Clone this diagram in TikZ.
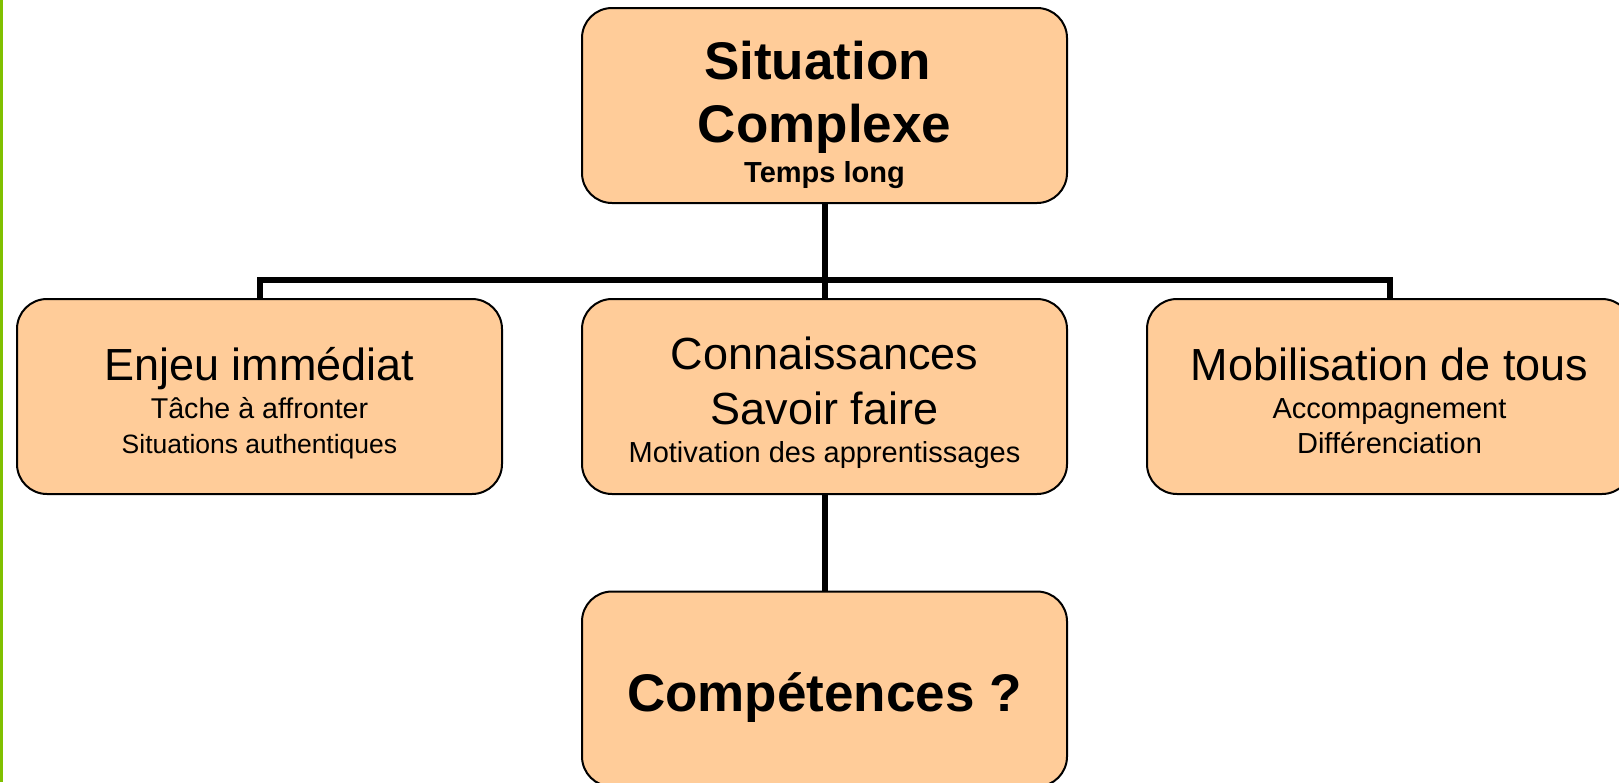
\documentclass[tikz,border=0pt]{standalone}
\usepackage{fontspec}
\setmainfont{Liberation Sans}
\definecolor{peach}{HTML}{FFCC99}
\definecolor{edgegreen}{HTML}{80C000}
\begin{document}
\begin{tikzpicture}[x=1pt,y=-1pt,
  box/.style={draw=black, line width=2pt, fill=peach, rounded corners=30pt,
    minimum width=485pt, minimum height=195pt, inner sep=0pt},
  conn/.style={draw=black, line width=6pt},
  big/.style={anchor=base, inner sep=0pt, font=\fontsize{53}{60}\selectfont\bfseries},
  mid/.style={anchor=base, inner sep=0pt, font=\fontsize{45}{52}\selectfont},
  small/.style={anchor=base, inner sep=0pt, font=\fontsize{29}{33}\selectfont},
  smaller/.style={anchor=base, inner sep=0pt, font=\fontsize{26.5}{31}\selectfont},
  smallb/.style={anchor=base, inner sep=0pt, font=\fontsize{29}{33}\selectfont\bfseries}]
\useasboundingbox (0,0) rectangle (1619,782);
\clip (0,0) rectangle (1619,782);
\fill[white] (0,0) rectangle (1619,782);
\fill[edgegreen] (0,0) rectangle (2.5,782);

% boxes
\node[box] (top) at (824.5,105.5) {};
\node[box] (enj) at (259.5,396.5) {};
\node[box] (con) at (824.5,396.5) {};
\node[box] (mob) at (1389.5,396.5) {};
\node[box] (comp) at (824.5,689) {};

\coordinate (bar) at (824.5,280);

% connectors
\draw[conn] (top.south) -- (con.north);
\draw[conn] (enj.north) -- (enj.north |- bar) -- (mob.north |- bar) -- (mob.north);
\draw[conn] (con.south) -- (comp.north);

% texts
\node[big] (t1) at (817.5,79) {Situation};
\node[big] (t2) at (824.5,142) {Complexe};
\node[smallb] (t3) at (824.5,182) {Temps long};

\node[mid] (e1) at (259.5,380) {Enjeu immédiat};
\node[small, font=\fontsize{28.6}{33}\selectfont] (e2) at (259.5,418) {Tâche à affronter};
\node[smaller] (e3) at (259.5,453) {Situations authentiques};

\node[mid] (c1) at (824.5,369) {Connaissances};
\node[mid] (c2) at (824.5,424) {Savoir faire};
\node[small] (c3) at (824.5,462) {Motivation des apprentissages};

\node[mid] (m1) at (1389.5,380) {Mobilisation de tous};
\node[small] (m2) at (1389.5,418) {Accompagnement};
\node[small] (m3) at (1389.5,453) {Différenciation};

\node[big] (k1) at (824.5,711) {Compétences ?};
\end{tikzpicture}
\end{document}
